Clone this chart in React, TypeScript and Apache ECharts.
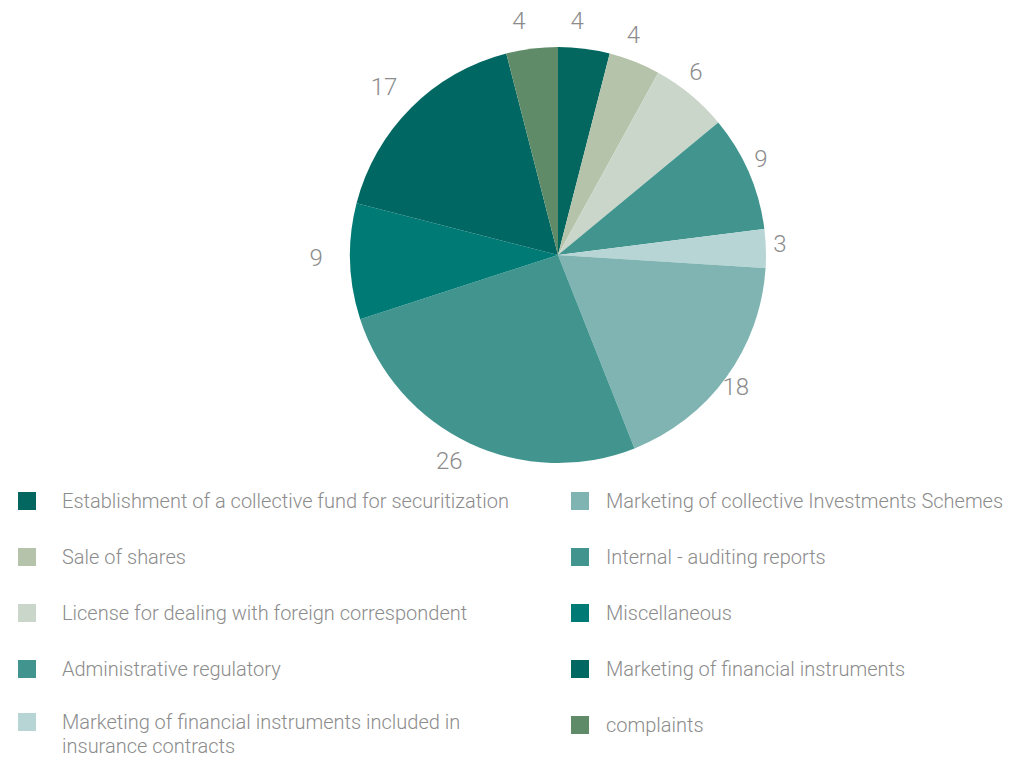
import React, { useEffect, useRef } from "react";
import * as echarts from "echarts";

const categories = [
  "Establishment of a collective fund for securitization",
  "Sale of shares",
  "License for dealing with foreign correspondent",
  "Administrative regulatory",
  "Marketing of financial instruments included in insurance contracts",
  "Marketing of collective Investments Schemes",
  "Internal - auditing reports",
  "Miscellaneous",
  "Marketing of financial instruments",
  "complaints",
];
const values = [4, 4, 6, 9, 3, 18, 26, 9, 17, 4];
const colors = [
  "#03665f",
  "#b5c3aa",
  "#cbd6ca",
  "#42958f",
  "#b6d5d4",
  "#7fb4b3",
  "#42958f",
  "#007a75",
  "#006762",
  "#5f8b69",
];

const FONT = "Roboto, 'Helvetica Neue', Arial, sans-serif";
const CX = 558;
const CY = 255;
const R = 208;
const LABEL_DIST = 232;
const LABEL_SHIFT_X = -10;
const LABEL_SHIFT_Y = -4;

export default function App() {
  const ref = useRef<HTMLDivElement>(null);
  useEffect(() => {
    document.body.style.margin = "0";
    if (!ref.current) return;
    const chart = echarts.init(ref.current, undefined, { renderer: "svg" });
    const data = categories.map((name, i) => ({
      name,
      value: values[i],
      itemStyle: { color: colors[i] },
    }));
    const total = values.reduce((a, b) => a + b, 0);
    const midAngles: number[] = [];
    let acc = 0;
    values.forEach((v) => {
      midAngles.push(((acc + v / 2) / total) * Math.PI * 2);
      acc += v;
    });
    const legendText = {
      color: "#8c8c8c",
      fontSize: 20,
      fontWeight: 300 as any,
      fontFamily: FONT,
      lineHeight: 28,
    };
    const legendBase = {
      orient: "vertical",
      height: 500,
      itemWidth: 18,
      itemHeight: 18,
      itemGap: 28,
      icon: "rect",
    };
    chart.setOption({
      animation: false,
      backgroundColor: "#ffffff",
      legend: [
        {
          ...legendBase,
          data: categories.slice(0, 4),
          left: 13,
          top: 482,
          textStyle: { ...legendText, padding: [0, 0, 0, 21] },
        },
        {
          ...legendBase,
          data: [categories[4]],
          left: 13,
          top: 681,
          formatter: () =>
            "\nMarketing of financial instruments included in\ninsurance contracts",
          textStyle: { ...legendText, lineHeight: 24, padding: [0, 0, 0, 21] },
        },
        {
          ...legendBase,
          data: categories.slice(5),
          left: 566,
          top: 482,
          textStyle: { ...legendText, padding: [0, 0, 0, 12] },
        },
      ],
      series: [
        {
          type: "pie",
          center: [CX, CY],
          radius: R,
          startAngle: 90,
          clockwise: true,
          data,
          label: {
            show: true,
            position: "outside",
            formatter: "{c}",
            color: "#8c8c8c",
            fontSize: 24,
            fontWeight: 300,
            fontFamily: FONT,
          },
          labelLine: { show: false, length: 12, length2: 0 },
          labelLayout: (p: any) => {
            const a = midAngles[p.dataIndex];
            return {
              x: CX + LABEL_SHIFT_X + LABEL_DIST * Math.sin(a),
              y: CY + LABEL_SHIFT_Y - LABEL_DIST * Math.cos(a),
              align: "center",
              verticalAlign: "middle",
            };
          },
          itemStyle: { borderWidth: 0 },
          emphasis: { disabled: true },
        },
      ],
    });
    return () => chart.dispose();
  }, []);
  return (
    <div
      ref={ref}
      style={{ position: "absolute", left: 0, top: 0, width: 1036, height: 762 }}
    />
  );
}
